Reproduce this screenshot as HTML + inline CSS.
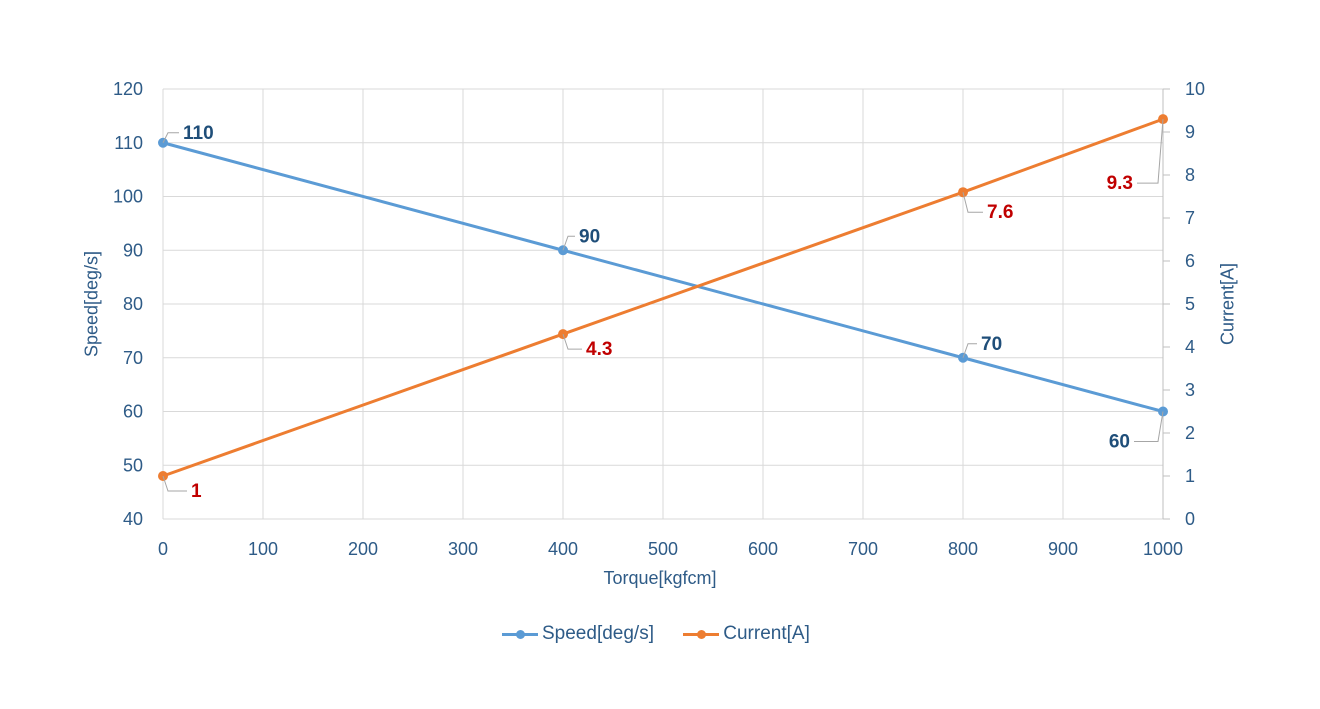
<!DOCTYPE html>
<html><head><meta charset="utf-8"><style>
html,body{margin:0;padding:0;background:#fff;width:1320px;height:709px;overflow:hidden;}
svg text{font-family:"Liberation Sans",sans-serif;}
#c{display:block;position:absolute;left:0;top:0;}
</style></head><body>
<svg id="c" width="1320" height="709"></svg>
<script>
const categories=[0,400,800,1000];
const speedValues=[110,90,70,60];
const currentValues=[1,4.3,7.6,9.3];
const xTicks=[0,100,200,300,400,500,600,700,800,900,1000];
const yLeftTicks=[40,50,60,70,80,90,100,110,120];
const yRightTicks=[0,1,2,3,4,5,6,7,8,9,10];
const NS='http://www.w3.org/2000/svg';
const svg=document.getElementById('c');
const X=v=>163+v;
const YL=v=>519-(v-40)*430/80;
const YR=v=>519-v*43;
function el(t,a,txt){const e=document.createElementNS(NS,t);for(const k in a)e.setAttribute(k,a[k]);if(txt!==undefined)e.textContent=txt;svg.appendChild(e);return e;}
const tc='#2e5b87';
xTicks.forEach(v=>{const l=el('line',{x1:X(v),x2:X(v),y1:89,y2:519,stroke:'#d9d9d9'});


const t=el('text',{x:X(v),y:555,'text-anchor':'middle','font-size':18,fill:tc},v);

});
yLeftTicks.forEach(v=>{const l=el('line',{x1:163,x2:1163,y1:YL(v),y2:YL(v),stroke:'#d9d9d9'});


const t=el('text',{x:143,y:YL(v)+6,'text-anchor':'end','font-size':18,fill:tc},v);

});
yRightTicks.forEach(v=>{el('line',{x1:1163,x2:1170,y1:YR(v),y2:YR(v),stroke:'#bfbfbf'});
const t=el('text',{x:1185,y:YR(v)+6,'font-size':18,fill:tc},v);

});
el('line',{x1:1163,x2:1163,y1:89,y2:519,stroke:'#bfbfbf'});
function series(vals,yf,color,name){
 const p=el('polyline',{points:categories.map((c,i)=>X(c)+','+yf(vals[i])).join(' '),fill:'none',stroke:color,'stroke-width':3});
 
 
 categories.forEach((c,i)=>{const d=el('circle',{cx:X(c),cy:yf(vals[i]),r:5,fill:color});
 
 });
}
series(speedValues,YL,'#5b9bd5','speed');
series(currentValues,YR,'#ed7d31','current');
const sOff=[[20,-4,'start'],[16,-8,'start'],[18,-8,'start'],[-33,36,'end']];
const cOff=[[28,21,'start'],[23,21,'start'],[24,26,'start'],[-30,70,'end']];
function labels(vals,yf,off,color,name){
 categories.forEach((c,i)=>{const x=X(c),y=yf(vals[i]);const [dx,dy,anc]=off[i];
 const tx=x+dx,ty=y+dy;
 const lx=anc==='start'?tx-4:tx+4;
 el('polyline',{points:`${x},${y} ${x+(dx>0?5:-5)},${ty-6} ${lx},${ty-6}`,fill:'none',stroke:'#a6a6a6','stroke-width':1});
 const t=el('text',{x:tx,y:ty,'text-anchor':anc,'font-size':19,'font-weight':'bold',fill:color},vals[i]);
 
 });
}
labels(speedValues,YL,sOff,'#1f4e79','speed');
labels(currentValues,YR,cOff,'#c00000','current');
</script>
<div style="position:absolute;left:0;top:0;width:1320px;height:709px;pointer-events:none;font-family:'Liberation Sans',sans-serif;color:#2e5b87;">
 <div style="position:absolute;left:0;width:1320px;top:568px;text-align:center;font-size:18px;">Torque[kgfcm]</div>
 <div style="position:absolute;left:92px;top:304px;transform:translate(-50%,-50%) rotate(-90deg);font-size:18px;white-space:nowrap;">Speed[deg/s]</div>
 <div style="position:absolute;left:1228px;top:304px;transform:translate(-50%,-50%) rotate(-90deg);font-size:18px;white-space:nowrap;">Current[A]</div>
 <div style="position:absolute;top:623px;left:502px;font-size:19px;white-space:nowrap;">
  <span style="display:inline-block;position:relative;padding-left:40px;"><span style="position:absolute;left:0;top:10px;width:36px;height:3px;background:#5b9bd5"></span><span style="position:absolute;left:14px;top:7px;width:9px;height:9px;border-radius:50%;background:#5b9bd5"></span>Speed[deg/s]</span>
  <span style="display:inline-block;position:relative;padding-left:40px;margin-left:24px;"><span style="position:absolute;left:0;top:10px;width:36px;height:3px;background:#ed7d31"></span><span style="position:absolute;left:14px;top:7px;width:9px;height:9px;border-radius:50%;background:#ed7d31"></span>Current[A]</span>
 </div>
</div>
</body></html>
